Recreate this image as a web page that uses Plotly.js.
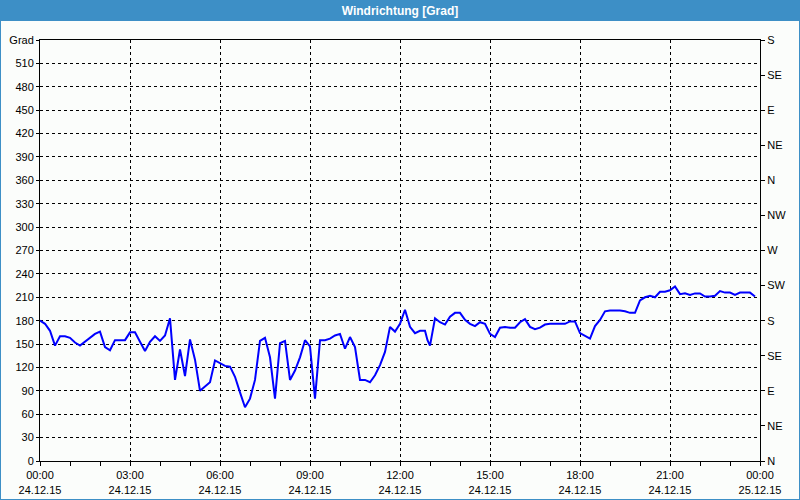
<!DOCTYPE html>
<html>
<head>
<meta charset="utf-8">
<script src="https://cdn.plot.ly/plotly-3.0.1.min.js"></script>
<style>
  html, body { margin: 0; padding: 0; background: #fbfdfb; }
  #chart { width: 800px; height: 500px; }
</style>
</head>
<body>
<div id="chart"></div>
<script>
// Wind direction readings, 24.12.15 (minutes after midnight -> degrees)
const minutes = [
  0, 10, 20, 30, 40, 50, 60, 70, 80, 90, 100, 110, 120, 130, 140, 150, 160, 170, 180, 190,
  200, 210, 220, 230, 240, 250, 260, 270, 280, 290, 300, 310, 320, 330, 340, 350, 360, 370, 380, 390,
  400, 410, 420, 430, 440, 450, 460, 470, 480, 490, 500, 510, 520, 530, 540, 550, 560, 570, 580, 590,
  600, 610, 620, 630, 640, 650, 660, 670, 680, 690, 700, 710, 720, 730, 740, 750, 760, 770, 775, 780,
  790, 800, 810, 820, 830, 840, 850, 860, 870, 880, 890, 900, 910, 920, 930, 940, 950, 960, 970, 980,
  990, 1000, 1010, 1020, 1030, 1040, 1050, 1060, 1070, 1080, 1090, 1100, 1110, 1120, 1130, 1140, 1150, 1160, 1170, 1180,
  1190, 1200, 1210, 1220, 1230, 1240, 1250, 1260, 1270, 1280, 1290, 1300, 1310, 1320, 1330, 1340, 1350, 1360, 1370, 1380,
  1390, 1400, 1410, 1420, 1430
];
const degrees = [
  180, 176, 167, 148, 160, 160, 158, 152, 148, 153, 157, 163, 166, 146, 142, 155, 155, 155, 165, 165,
  153, 141, 153, 160, 154, 161, 183, 104, 143, 109, 156, 130, 90, 96, 101, 129, 126, 122, 121, 108,
  88, 69, 80, 104, 154, 158, 133, 80, 151, 154, 104, 116, 133, 155, 147, 80, 155, 155, 157, 161,
  163, 144, 159, 146, 104, 104, 101, 110, 123, 140, 172, 166, 176, 194, 172, 164, 167, 167, 155, 148,
  183, 178, 175, 185, 190, 190, 181, 176, 173, 178, 176, 163, 159, 171, 172, 171, 171, 178, 182, 172,
  169, 171, 175, 176, 176, 176, 176, 179, 179, 164, 161, 157, 173, 181, 192, 193, 193, 193, 192, 190,
  190, 206, 210, 212, 210, 217, 217, 219, 224, 214, 215, 213, 215, 215, 211, 211, 212, 218, 216, 216,
  213, 216, 216, 216, 211
];

// Axis labels
const leftTickVals = [0, 30, 60, 90, 120, 150, 180, 210, 240, 270, 300, 330, 360, 390, 420, 450, 480, 510, 540];
const leftTickText = ['0', '30', '60', '90', '120', '150', '180', '210', '240', '270', '300', '330', '360', '390', '420', '450', '480', '510', 'Grad'];
const compassVals = [0, 45, 90, 135, 180, 225, 270, 315, 360, 405, 450, 495, 540];
const compassText = ['N', 'NE', 'E', 'SE', 'S', 'SW', 'W', 'NW', 'N', 'NE', 'E', 'SE', 'S'];
const timeTickVals = ['2015-12-24 00:00', '2015-12-24 03:00', '2015-12-24 06:00', '2015-12-24 09:00', '2015-12-24 12:00',
  '2015-12-24 15:00', '2015-12-24 18:00', '2015-12-24 21:00', '2015-12-25 00:00'];
const timeTickText = ['00:00<br>24.12.15', '03:00<br>24.12.15', '06:00<br>24.12.15', '09:00<br>24.12.15', '12:00<br>24.12.15',
  '15:00<br>24.12.15', '18:00<br>24.12.15', '21:00<br>24.12.15', '00:00<br>25.12.15'];

const pad = n => String(n).padStart(2, '0');
const times = minutes.map(m => '2015-12-24 ' + pad(Math.floor(m / 60)) + ':' + pad(m % 60));

const tickFont = { family: 'Liberation Sans, Arial, sans-serif', size: 11, color: '#000000' };

const traces = [
  {
    x: times, y: degrees, type: 'scatter', mode: 'lines',
    line: { color: '#0000ff', width: 2 },
    hoverinfo: 'x+y', showlegend: false
  },
  // keeps the compass axis on the right alive
  {
    x: times, y: degrees, type: 'scatter', mode: 'lines', yaxis: 'y2',
    line: { color: 'rgba(0,0,0,0)', width: 1 },
    hoverinfo: 'skip', showlegend: false
  }
];

const layout = {
  width: 800, height: 500,
  paper_bgcolor: '#fbfdfb',
  plot_bgcolor: '#fbfdfb',
  margin: { l: 40, r: 40, t: 40, b: 39, pad: 0 },
  title: {
    text: '<b>Windrichtung [Grad]</b>',
    font: { family: 'Liberation Sans Narrow, Liberation Sans, sans-serif', size: 12, color: '#ffffff' },
    x: 0.5, xanchor: 'center', y: 0.979, yanchor: 'middle', yref: 'container'
  },
  xaxis: {
    type: 'date',
    range: ['2015-12-24 00:00', '2015-12-25 00:00'],
    tickmode: 'array', tickvals: timeTickVals, ticktext: timeTickText,
    tickfont: tickFont, tickangle: 0,
    ticks: 'outside', ticklen: 4, tickcolor: '#000000',
    showgrid: true, gridcolor: '#000000', gridwidth: 1, griddash: '3px,3px',
    showline: true, linecolor: '#000000', linewidth: 1, mirror: true,
    zeroline: false,
    minor: { dtick: 3600000, tick0: '2015-12-24 00:00', ticks: 'outside', ticklen: 4, tickcolor: '#000000', showgrid: false }
  },
  yaxis: {
    range: [0, 540],
    tickmode: 'array', tickvals: leftTickVals, ticktext: leftTickText,
    tickfont: tickFont,
    ticks: 'outside', ticklen: 3, tickcolor: '#000000',
    showgrid: true, gridcolor: '#000000', gridwidth: 1, griddash: '3px,3px',
    showline: true, linecolor: '#000000', linewidth: 1,
    zeroline: false
  },
  yaxis2: {
    range: [0, 540], overlaying: 'y', side: 'right',
    tickmode: 'array', tickvals: compassVals, ticktext: compassText,
    tickfont: tickFont,
    ticks: 'outside', ticklen: 4, tickcolor: '#000000',
    showgrid: false, showline: true, linecolor: '#000000', linewidth: 1,
    zeroline: false
  },
  shapes: [
    // header bar
    { type: 'rect', xref: 'paper', yref: 'paper', layer: 'below',
      x0: -40 / 720, x1: 1 + 40 / 720, y0: 1 + 19 / 421, y1: 1 + 40 / 421,
      fillcolor: '#3d8fc6', line: { width: 0 } },
    // window frame
    { type: 'rect', xref: 'paper', yref: 'paper', layer: 'below',
      x0: -40 / 720, x1: 1 + 40 / 720, y0: -39 / 421, y1: 1 + 40 / 421,
      fillcolor: 'rgba(0,0,0,0)', line: { color: '#3d8fc6', width: 2 } }
  ]
};

Plotly.newPlot('chart', traces, layout, { displayModeBar: false, staticPlot: true });
</script>
</body>
</html>
